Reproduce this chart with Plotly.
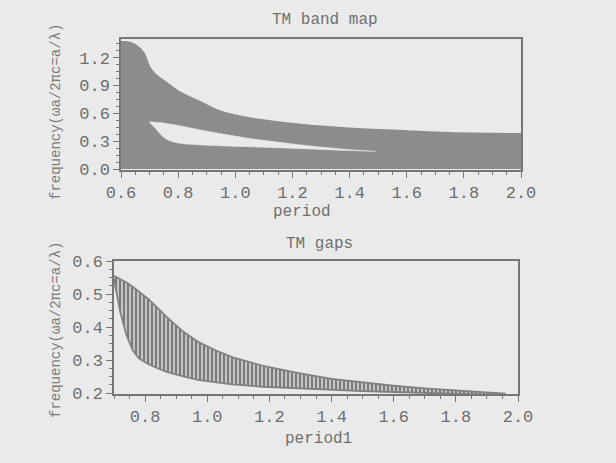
import plotly.graph_objects as go

# ---- TM band map (top) ----
band_period = [0.60, 0.62, 0.65, 0.68, 0.70, 0.72, 0.76, 0.80, 0.88, 0.95, 1.05, 1.23, 1.40, 1.60, 1.75, 2.00]
band_top    = [1.37, 1.37, 1.34, 1.25, 1.10, 1.02, 0.93, 0.84, 0.72, 0.62, 0.55, 0.48, 0.44, 0.41, 0.39, 0.38]

gap_period_top = [0.70, 0.72, 0.74, 0.76, 0.80, 0.88, 1.05, 1.23, 1.40, 1.49]
gap_upper_top  = [0.51, 0.505, 0.50, 0.49, 0.47, 0.42, 0.33, 0.26, 0.21, 0.19]
gap_lower_top  = [0.50, 0.44, 0.37, 0.32, 0.28, 0.26, 0.24, 0.22, 0.20, 0.19]

# ---- TM gaps (bottom) ----
gaps_period = [0.70, 0.71, 0.72, 0.74, 0.76, 0.78, 0.81, 0.84, 0.87, 0.92, 0.97, 1.03, 1.08, 1.18, 1.29,
               1.40, 1.50, 1.60, 1.70, 1.80, 1.90, 1.96]
gaps_upper  = [0.555, 0.550, 0.545, 0.535, 0.522, 0.508, 0.485, 0.458, 0.430, 0.388, 0.355, 0.328, 0.309,
               0.282, 0.261, 0.243, 0.232, 0.222, 0.214, 0.207, 0.201, 0.198]
gaps_lower  = [0.545, 0.500, 0.445, 0.376, 0.330, 0.305, 0.288, 0.275, 0.264, 0.251, 0.240, 0.232, 0.226,
               0.219, 0.214, 0.209, 0.206, 0.203, 0.200, 0.197, 0.195, 0.193]

BG = "#eaeaea"
BAND = "#8c8c8c"
AX = "#767676"
FONT = "Liberation Mono"

fig = go.Figure()

# top: full band area
fig.add_trace(go.Scatter(x=band_period, y=band_top, mode="lines", fill="tozeroy",
                         fillcolor=BAND, line=dict(color=BAND, width=1.5, shape="spline"),
                         xaxis="x", yaxis="y", hoverinfo="skip"))
# top: the band gap
fig.add_trace(go.Scatter(x=gap_period_top + gap_period_top[::-1],
                         y=gap_upper_top + gap_lower_top[::-1],
                         mode="lines", fill="toself", fillcolor=BG,
                         line=dict(color=BG, width=0.5, shape="spline"),
                         xaxis="x", yaxis="y", hoverinfo="skip"))

# bottom: gap region with vertical hatch
fig.add_trace(go.Scatter(x=gaps_period, y=gaps_lower, mode="lines",
                         line=dict(color="#808080", width=1.8),
                         xaxis="x2", yaxis="y2", hoverinfo="skip"))
fig.add_trace(go.Scatter(x=gaps_period, y=gaps_upper, mode="lines", fill="tonexty",
                         fillcolor="#c4c4c4",
                         fillpattern=dict(shape="|", fgcolor="#7a7a7a", bgcolor="#c6c6c6",
                                          size=4, solidity=0.5),
                         line=dict(color="#808080", width=1.8),
                         xaxis="x2", yaxis="y2", hoverinfo="skip"))

axis_common = dict(showline=True, linecolor=AX, linewidth=1.5, mirror=True, automargin=False,
                   ticks="outside", ticklen=6, tickwidth=1.2, tickcolor=AX,
                   showgrid=False, zeroline=False, tickformat=".1f",
                   tickfont=dict(family=FONT, size=17, color="#6e6e6e"))

W, H = 616, 463
fig.update_layout(
    template="none",
    width=W, height=H,
    margin=dict(l=0, r=0, t=0, b=0, pad=0, autoexpand=False),
    paper_bgcolor=BG, plot_bgcolor=BG,
    showlegend=False,
    xaxis=dict(axis_common, domain=[121 / W, 521 / W], range=[0.6, 2.0], dtick=0.2, anchor="y",
               minor=dict(dtick=0.05, ticks="outside", ticklen=3, tickcolor=AX)),
    yaxis=dict(axis_common, domain=[(H - 170) / H, (H - 39) / H], range=[-0.01, 1.4],
               tickvals=[0.0, 0.3, 0.6, 0.9, 1.2], anchor="x",
               minor=dict(dtick=0.075, tick0=0, ticks="outside", ticklen=3, tickcolor=AX)),
    xaxis2=dict(axis_common, domain=[114 / W, 518 / W], range=[0.7, 2.0],
                tickvals=[0.8, 1.0, 1.2, 1.4, 1.6, 1.8, 2.0], anchor="y2",
                minor=dict(dtick=0.05, tick0=0.7, ticks="outside", ticklen=3, tickcolor=AX)),
    yaxis2=dict(axis_common, domain=[(H - 394) / H, (H - 261) / H], range=[0.197, 0.6],
                tickvals=[0.2, 0.3, 0.4, 0.5, 0.6], anchor="x2",
                minor=dict(dtick=0.025, tick0=0.2, ticks="outside", ticklen=3, tickcolor=AX)),
)

ann_font = dict(family=FONT, size=16, color="#707070")
ylab_font = dict(family=FONT, size=14, color="#7a7a7a")
annotations = [
    dict(text="TM band map", x=325 / W, y=(H - 20) / H, font=ann_font),
    dict(text="period", x=302 / W, y=(H - 212) / H, font=ann_font),
    dict(text="frequency(ωa/2πc=a/λ)", x=56 / W, y=(H - 112) / H, font=ylab_font, textangle=-90),
    dict(text="TM gaps", x=320 / W, y=(H - 244) / H, font=ann_font),
    dict(text="period1", x=318 / W, y=(H - 439) / H, font=ann_font),
    dict(text="frequency(ωa/2πc=a/λ)", x=56 / W, y=(H - 330) / H, font=ylab_font, textangle=-90),
]
for a in annotations:
    a.update(xref="paper", yref="paper", showarrow=False, xanchor="center", yanchor="middle")
fig.update_layout(annotations=annotations)

fig.write_html("out.html", config={"displayModeBar": False},
               post_script="document.body.style.margin='0';document.body.style.overflow='hidden';")
